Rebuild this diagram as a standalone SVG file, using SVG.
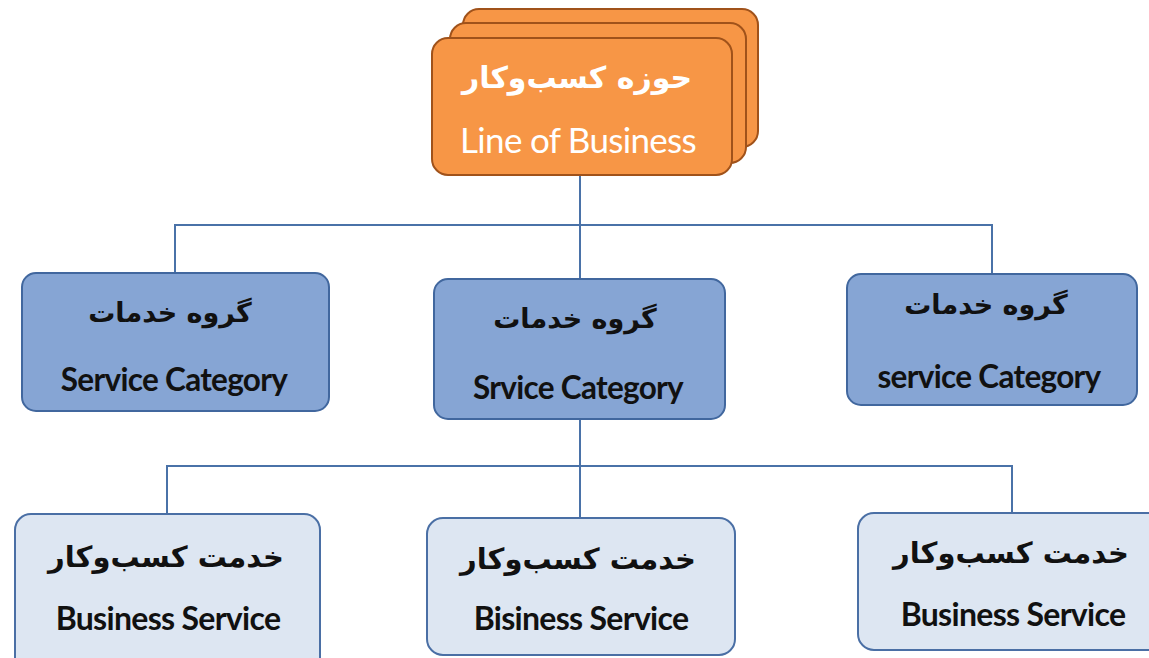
<svg xmlns="http://www.w3.org/2000/svg" width="1149" height="658" viewBox="0 0 1149 658">
<style>
.lob{fill:#F79646;stroke:#A0521A;stroke-width:2}
.cat{fill:#86A5D4;stroke:#41679E;stroke-width:2}
.svc{fill:#DDE6F2;stroke:#4A6FA5;stroke-width:2}
.con{fill:none;stroke:#4A72A8;stroke-width:2}
.fa{font-family:"DejaVu Sans",sans-serif;font-weight:bold;font-size:29px;text-anchor:middle}
.g{font-size:27px}
.en{font-family:"Lato","Open Sans",sans-serif;font-weight:bold;font-size:31.5px;text-anchor:middle;letter-spacing:-0.7px}
.s{font-size:32px}
.big{font-size:35px;font-weight:normal}
.w{fill:#FFFFFF}
.k{fill:#111111}
</style>
<rect width="1149" height="658" fill="#FFFFFF"/>
<g id="connectors">
<path class="con" d="M580 175 V279 M175 274 V225 H992 V274"/>
<path class="con" d="M580 419 V518 M167 514 V466 H1012 V514"/>
</g>
<g id="line-of-business">
<rect class="lob" x="463" y="9" width="295" height="138" rx="16"/>
<rect class="lob" x="450" y="23" width="296" height="140" rx="16"/>
<rect class="lob" x="432" y="38" width="300" height="137" rx="16"/>
<text class="fa w" x="577" y="88" style="font-size:30px">حوزه کسب‌وکار</text>
<text class="en big w" x="578" y="153">Line of Business</text>
</g>
<g id="cat-left">
<rect class="cat" x="22" y="273" width="307" height="138" rx="14"/>
<text class="fa g k" x="170" y="322">گروه خدمات</text>
<text class="en k" x="174" y="391">Service Category</text>
</g>
<g id="cat-middle">
<rect class="cat" x="434" y="279" width="291" height="140" rx="14"/>
<text class="fa g k" x="575" y="328">گروه خدمات</text>
<text class="en k" x="578" y="399">Srvice Category</text>
</g>
<g id="cat-right">
<rect class="cat" x="847" y="274" width="290" height="131" rx="14"/>
<text class="fa g k" x="986" y="314">گروه خدمات</text>
<text class="en k" x="989" y="388">service Category</text>
</g>
<g id="svc-left">
<rect class="svc" x="15" y="514" width="305" height="160" rx="16"/>
<text class="fa k" x="166" y="567">خدمت کسب‌وکار</text>
<text class="en s k" x="168" y="630">Business Service</text>
</g>
<g id="svc-middle">
<rect class="svc" x="427" y="518" width="308" height="137" rx="16"/>
<text class="fa k" x="578" y="569">خدمت کسب‌وکار</text>
<text class="en s k" x="581" y="630">Bisiness Service</text>
</g>
<g id="svc-right">
<rect class="svc" x="858" y="513" width="310" height="137" rx="16"/>
<text class="fa k" x="1011" y="563">خدمت کسب‌وکار</text>
<text class="en s k" x="1013" y="626">Business Service</text>
</g>
</svg>
